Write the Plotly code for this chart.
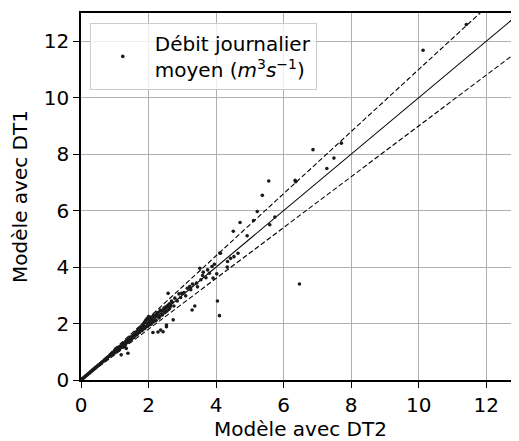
import plotly.graph_objects as go

# ---- data ----
dt2_low = [0.02, 0.04, 0.05, 0.07, 0.09, 0.11, 0.13, 0.15, 0.17, 0.19,
           0.21, 0.23, 0.25, 0.27, 0.29, 0.31, 0.33, 0.35, 0.37, 0.39,
           0.41, 0.43, 0.45, 0.47, 0.49, 0.52, 0.55, 0.58, 0.61, 0.64,
           0.67, 0.70, 0.73, 0.76, 0.79]
dt1_low = [0.02, 0.04, 0.05, 0.07, 0.09, 0.11, 0.13, 0.16, 0.17, 0.19,
           0.21, 0.24, 0.25, 0.27, 0.30, 0.31, 0.34, 0.35, 0.38, 0.39,
           0.42, 0.43, 0.46, 0.47, 0.50, 0.53, 0.55, 0.59, 0.61, 0.65,
           0.67, 0.71, 0.73, 0.77, 0.80]

dt2_mid = [0.82, 0.84, 0.86, 0.88, 0.90, 0.92, 0.94, 0.96, 0.98, 1.00,
           1.01, 1.02, 1.04, 1.05, 1.07, 1.08, 1.10, 1.12, 1.13, 1.15,
           1.17, 1.19, 1.20, 1.22, 1.24, 1.26, 1.28, 1.30, 1.32, 1.34,
           1.36, 1.38, 1.39, 1.41, 1.43, 1.45, 1.47, 1.49, 1.52, 1.55,
           1.58]
dt1_mid = [0.83, 0.85, 0.85, 0.89, 0.92, 0.91, 0.96, 0.95, 1.02, 1.05,
           0.97, 1.10, 1.03, 1.12, 1.04, 1.13, 1.08, 1.06, 1.18, 1.12,
           1.15, 0.89, 1.22, 1.16, 1.27, 1.21, 1.25, 1.33, 1.28, 1.12,
           1.40, 1.34, 0.95, 1.44, 1.38, 1.49, 1.42, 1.47, 1.55, 1.50,
           1.63]

dt2_band = [1.05, 1.10, 1.14, 1.18, 1.22, 1.25, 1.30, 1.33, 1.37, 1.42,
            1.46, 1.50, 1.54, 1.57, 1.61, 1.65, 1.69, 1.73, 1.77, 1.81,
            1.85, 1.89, 1.93, 1.97, 2.01, 2.05, 2.09, 2.12, 2.17, 2.21,
            2.26, 2.31, 2.35, 2.41, 2.46, 2.51, 2.57, 2.63, 2.68, 2.75]
dt1_band = [1.00, 1.15, 1.10, 1.20, 1.19, 1.30, 1.26, 1.38, 1.33, 1.40,
            1.52, 1.45, 1.58, 1.52, 1.66, 1.60, 1.75, 1.68, 1.82, 1.75,
            1.93, 1.82, 2.02, 1.90, 2.12, 1.98, 2.22, 2.05, 2.26, 2.10,
            2.38, 2.20, 2.48, 2.30, 2.55, 2.42, 2.65, 2.55, 2.80, 2.62]

dt2_upper = [1.60, 1.62, 1.64, 1.66, 1.68, 1.70, 1.72, 1.74, 1.76, 1.78,
             1.80, 1.82, 1.84, 1.86, 1.88, 1.90, 1.92, 1.94, 1.96, 1.98,
             2.00, 2.02, 2.04, 2.06, 2.08, 2.10, 2.13, 2.14, 2.16, 2.18,
             2.20, 2.22, 2.25, 2.28, 2.28, 2.30, 2.33, 2.36, 2.38, 2.40,
             2.43, 2.45, 2.48, 2.50, 2.53, 2.53, 2.55, 2.58, 2.60, 2.62]
dt1_upper = [1.58, 1.70, 1.66, 1.61, 1.74, 1.68, 1.80, 1.71, 1.85, 1.76,
             1.92, 1.79, 1.97, 1.83, 2.05, 1.88, 2.12, 1.90, 2.18, 2.02,
             2.25, 1.95, 2.10, 2.20, 1.98, 2.15, 1.68, 2.28, 2.08, 2.22,
             2.30, 2.12, 2.35, 1.70, 2.26, 2.40, 2.25, 1.77, 2.45, 2.32,
             1.71, 2.50, 2.38, 2.58, 1.89, 1.95, 2.45, 2.62, 2.50, 2.70]

dt2_high = [2.58, 2.65, 2.70, 2.73, 2.78, 2.85, 2.90, 2.95, 2.98, 3.05,
            3.10, 3.15, 3.22, 3.25, 3.29, 3.30, 3.37, 3.42, 3.45, 3.52,
            3.55, 3.60, 3.62, 3.70, 3.75, 3.80, 3.88, 3.91, 3.95, 4.02,
            4.04, 4.10, 4.11, 4.13]
dt1_high = [3.07, 2.62, 2.75, 2.13, 2.90, 2.80, 3.05, 2.92, 3.07, 3.10,
            2.98, 3.25, 3.31, 3.20, 2.48, 3.40, 2.62, 3.43, 3.30, 3.96,
            3.55, 3.70, 3.82, 3.62, 3.90, 3.78, 4.02, 3.61, 4.10, 3.76,
            2.80, 2.28, 4.50, 4.49]

dt2_top = [4.33, 4.34, 4.43, 4.53, 4.65, 4.51, 4.71, 4.92, 5.11, 5.22,
           5.37, 5.56, 5.59, 5.74, 6.34, 6.36, 6.47, 6.87, 7.28, 7.71,
           10.13, 11.41, 7.49]
dt1_top = [4.00, 4.20, 4.31, 4.37, 4.49, 5.27, 5.58, 5.11, 5.65, 5.97,
           6.54, 7.05, 5.50, 5.77, 7.07, 7.02, 3.40, 8.16, 7.49, 8.39,
           11.68, 12.59, 7.86]

ref_x = [0, 14]
ref_factors = [1.0, 1.1, 0.9]
ref_dash = ["solid", "dash", "dash"]

tick_vals = [0, 2, 4, 6, 8, 10, 12]
axis_range = [0, 13]

x_all = dt2_low + dt2_mid + dt2_band + dt2_upper + dt2_high + dt2_top
y_all = dt1_low + dt1_mid + dt1_band + dt1_upper + dt1_high + dt1_top

FONT = "DejaVu Sans"

fig = go.Figure()

for f, d in zip(ref_factors, ref_dash):
    fig.add_trace(go.Scatter(
        x=ref_x, y=[f * v for v in ref_x], mode="lines",
        line=dict(color="black", width=1.1, dash=d if d == "solid" else "5px,2.5px"),
        showlegend=False, hoverinfo="skip"))

fig.add_trace(go.Scatter(
    x=x_all, y=y_all, mode="markers",
    marker=dict(color="#1a1a1a", size=3.6, line=dict(width=0)),
    name="Débit journalier<br>moyen (<i>m</i><sup>3</sup><i>s</i><sup>−1</sup>)",
    showlegend=True))

axis_common = dict(
    range=axis_range, tickvals=tick_vals, ticks="outside", ticklen=6,
    tickwidth=1.3, tickcolor="black", showline=True, linecolor="black",
    linewidth=1.5, showgrid=True, gridcolor="#b0b0b0", gridwidth=1.3,
    zeroline=False, automargin=False,
    tickfont=dict(family=FONT, size=20, color="black"),
)

# the page adds an 8px body offset; margins compensate so the plot area
# lands at the reference position
fig.update_layout(
    width=519, height=441,
    margin=dict(l=73, r=7, t=5, b=69),
    paper_bgcolor="white", plot_bgcolor="white",
    font=dict(family=FONT, size=20, color="black"),
    xaxis=dict(**axis_common, mirror=True,
               title=dict(text="Modèle avec DT2", font=dict(family=FONT, size=20), standoff=2)),
    yaxis=dict(**axis_common,
               title=dict(text="Modèle avec DT1", font=dict(family=FONT, size=20), standoff=15)),
    legend=dict(x=0.02, y=0.973, xanchor="left", yanchor="top",
                bgcolor="rgba(255,255,255,0.8)", bordercolor="#cccccc", borderwidth=1,
                font=dict(family=FONT, size=20, color="black"), itemwidth=54),
    showlegend=True,
)

fig.write_html("out.html")
